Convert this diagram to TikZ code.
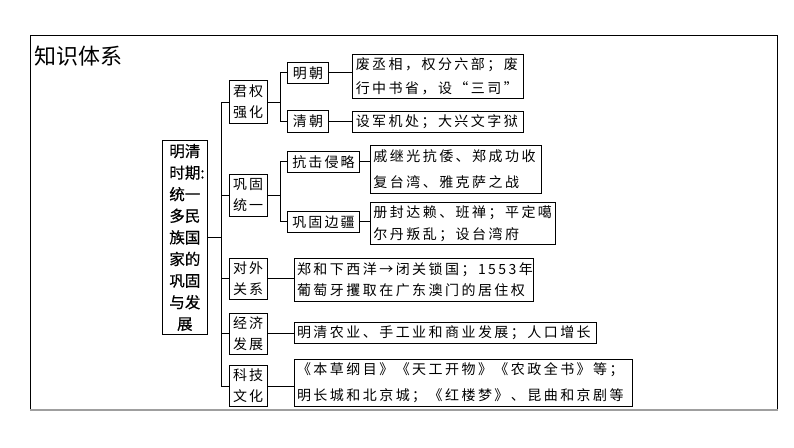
\documentclass[tikz,border=0pt]{standalone}
\usepackage{fontspec}
\newfontfamily\cjk{Noto Sans CJK SC}
\newfontfamily\cjkbold[FakeBold=0.5]{Noto Sans CJK SC}
\newfontfamily\cjksp[LetterSpace=17.5]{Noto Sans CJK SC}
\newfontfamily\cjklv[LetterSpace=15]{Noto Sans CJK SC}
\begin{document}
\begin{tikzpicture}[x=1pt,y=-1pt,
  ln/.style={line width=1pt},
  rootbox/.style={draw, line width=0.9pt, inner sep=0pt, text width=45pt, align=center,
    minimum height=194.8pt, font=\cjkbold\fontsize{15.5}{21.6}\selectfont},
  lev/.style={draw, line width=0.9pt, inner sep=0pt, minimum width=38pt, align=center,
    font=\cjklv\fontsize{14}{21}\selectfont},
  sub/.style={draw, line width=0.9pt, inner sep=0pt, align=center,
    font=\cjklv\fontsize{14}{18}\selectfont},
  tb/.style={draw, line width=0.9pt, inner xsep=3pt, inner ysep=0pt, anchor=west, align=left,
    font=\cjksp\fontsize{14}{#1}\selectfont},
  tb/.default=24
]
\useasboundingbox (0,0) rectangle (794,447);
% frame
\draw[line width=1pt] (30,410) -- (30,35) -- (777.7,35) -- (777.7,410);
\draw[gray!75, line width=2pt] (30,410) -- (777.7,410);
% title
\node[anchor=west, inner sep=0pt, font=\cjk\fontsize{22}{22}\selectfont] (title) at (34,56) {知识体系};
% root
\node[rootbox] (root) at (184.85,237.4) {明清\\时期\rlap{:}\\统一\\多民\\族国\\家的\\巩固\\与发\\展};
% level 1
\node[lev, minimum height=42.4pt] (junquan) at (248.2,102) {君权\\强化};
\node[lev, minimum height=42pt] (gonggu) at (248.2,195) {巩固\\统一};
\node[lev, minimum height=41.7pt] (duiwai) at (248.2,278.9) {对外\\关系};
\node[lev, minimum height=41.5pt] (jingji) at (248.2,333.8) {经济\\发展};
\node[lev, minimum height=41.2pt] (keji) at (248.2,386.1) {科技\\文化};
% level 2
\node[sub, minimum width=41pt, minimum height=20.7pt] (mingchao) at (308,72.8) {明朝};
\node[sub, minimum width=41pt, minimum height=21.4pt] (qingchao) at (308,121.6) {清朝};
\node[sub, minimum width=72pt, minimum height=21.4pt] (kangji) at (323.5,161.7) {抗击侵略};
\node[sub, minimum width=72pt, minimum height=21.5pt] (bianjiang) at (323.5,221.8) {巩固边疆};
% text boxes
\node[tb=24, text width=164.7pt, minimum height=44.1pt] (tming) at (352.3,76.8) {废丞相，权分六部；废\\行中书省，设“三司”};
\node[tb, text width=164.7pt, minimum height=20.8pt] (tqing) at (352.3,121.9) {设军机处；大兴文字狱};
\node[tb=26, text width=164.9pt, minimum height=47.4pt] (tkangji) at (370,169.3) {戚继光抗倭、郑成功收\\复台湾、雅克萨之战};
\node[tb=21.5, text width=178.6pt, minimum height=42.2pt] (tbian) at (370,223.5) {册封达赖、班禅；平定噶\\尔丹叛乱；设台湾府};
\node[tb=21, text width=232.9pt, minimum height=43.4pt] (tduiwai) at (293.6,279.7) {郑和下西洋→闭关锁国；1553年\\葡萄牙攫取在广东澳门的居住权};
\node[tb, text width=296.4pt, minimum height=20.6pt] (tjingji) at (293.6,332.7) {明清农业、手工业和商业发展；人口增长};
\node[tb=26, text width=332.4pt, minimum height=47.7pt] (tkeji) at (293.6,382.9) {《本草纲目》《天工开物》《农政全书》等；\\明长城和北京城；《红楼梦》、昆曲和京剧等};
% connectors
\coordinate (tr) at (221,0);
\coordinate (sj) at (280.9,0);
\draw[ln] (root.east) -- (root.east -| tr);
\draw[ln] (junquan.west -| tr) -- (keji.west -| tr);
\foreach \n in {junquan,gonggu,duiwai,jingji,keji}
  \draw[ln] (\n.west) -- (\n.west -| tr);
\draw[ln] (junquan.east) -- (junquan.east -| sj);
\draw[ln] (mingchao.west) -| (junquan.east -| sj) |- (qingchao.west);
\draw[ln] (gonggu.east) -- (gonggu.east -| sj);
\draw[ln] (kangji.west) -| (gonggu.east -| sj) |- (bianjiang.west);
\draw[ln] (mingchao.east) -- (mingchao.east -| tming.west);
\draw[ln] (qingchao.east) -- (qingchao.east -| tqing.west);
\draw[ln] (kangji.east) -- (kangji.east -| tkangji.west);
\draw[ln] (bianjiang.east) -- (bianjiang.east -| tbian.west);
\draw[ln] (duiwai.east) -- (duiwai.east -| tduiwai.west);
\draw[ln] (jingji.east) -- (jingji.east -| tjingji.west);
\draw[ln] (keji.east) -- (keji.east -| tkeji.west);
\end{tikzpicture}
\end{document}
